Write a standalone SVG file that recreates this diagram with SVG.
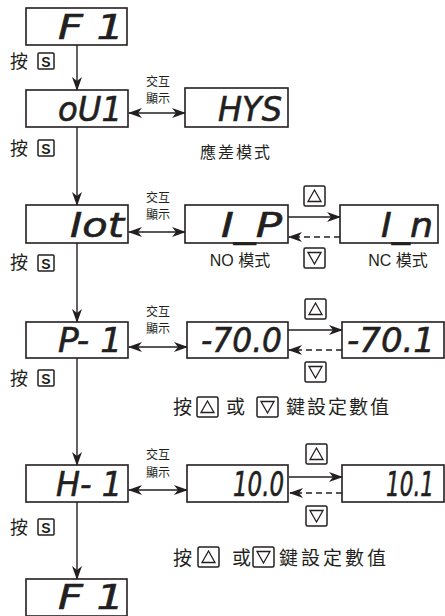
<svg xmlns="http://www.w3.org/2000/svg" width="445" height="616" viewBox="0 0 445 616">
<style>
.box{fill:#fff;stroke:#231f20;stroke-width:1.6}
.seg{font-family:"DejaVu Sans","Liberation Sans",sans-serif;font-weight:normal;font-style:oblique;font-size:33px;fill:#231f20;stroke:#231f20;stroke-width:0.6}
.ln{stroke:#231f20;stroke-width:1.4;fill:none}
.dash{stroke:#231f20;stroke-width:1.4;fill:none;stroke-dasharray:6 4}
.cjk{font-family:"Noto Sans CJK TC","Noto Sans CJK SC",sans-serif;fill:#231f20}
.lbl{font-family:"Liberation Sans","Noto Sans CJK TC",sans-serif;font-size:16px;fill:#231f20;text-anchor:middle}
.key{fill:#fff;stroke:#231f20;stroke-width:1.5}
.tri{fill:none;stroke:#231f20;stroke-width:1.3}
.s{font-family:"Liberation Sans",Arial,sans-serif;font-weight:bold;font-size:14px;fill:#231f20;text-anchor:middle}
</style>
<defs>
<marker id="ah" markerUnits="userSpaceOnUse" markerWidth="14" markerHeight="12" refX="13" refY="5" orient="auto-start-reverse" viewBox="0 0 14 10">
<path d="M0,0 L14,5 L0,10 L4,5 z" fill="#231f20"/>
</marker>
<g id="upkey"><rect class="key" x="0" y="0" width="21" height="20" rx="1.5"/><path class="tri" d="M4,15.5 L17,15.5 L10.5,4 z"/></g>
<g id="dnkey"><rect class="key" x="0" y="0" width="21" height="20" rx="1.5"/><path class="tri" d="M4,4.5 L17,4.5 L10.5,16 z"/></g>
<g id="skey"><rect class="key" x="0" y="0" width="16" height="16" rx="1"/><text class="s" x="8" y="13.5">S</text></g>
</defs>

<g id="connectors">
<line class="ln" x1="77" y1="45" x2="77" y2="90" marker-end="url(#ah)"/>
<line class="ln" x1="77" y1="127" x2="77" y2="205" marker-end="url(#ah)"/>
<line class="ln" x1="77" y1="243" x2="77" y2="322" marker-end="url(#ah)"/>
<line class="ln" x1="77" y1="358" x2="77" y2="465" marker-end="url(#ah)"/>
<line class="ln" x1="77" y1="502" x2="77" y2="579" marker-end="url(#ah)"/>

<line class="ln" x1="129" y1="113" x2="185" y2="113" marker-start="url(#ah)" marker-end="url(#ah)"/>
<line class="ln" x1="129" y1="232" x2="185" y2="232" marker-start="url(#ah)" marker-end="url(#ah)"/>
<line class="ln" x1="129" y1="347" x2="187" y2="347" marker-start="url(#ah)" marker-end="url(#ah)"/>
<line class="ln" x1="129" y1="490" x2="187" y2="490" marker-start="url(#ah)" marker-end="url(#ah)"/>

<line class="ln" x1="288" y1="217" x2="340" y2="217" marker-end="url(#ah)"/>
<line class="dash" x1="340" y1="237" x2="289" y2="237" marker-end="url(#ah)"/>
<line class="ln" x1="288" y1="330" x2="342" y2="330" marker-end="url(#ah)"/>
<line class="dash" x1="342" y1="350" x2="289" y2="350" marker-end="url(#ah)"/>
<line class="ln" x1="289" y1="477" x2="342" y2="477" marker-end="url(#ah)"/>
<line class="dash" x1="342" y1="493" x2="290" y2="493" marker-end="url(#ah)"/>
</g>

<g id="n-f1-top"><rect class="box" x="26" y="8" width="101" height="37"/><text class="seg" x="58" y="39" textLength="66" lengthAdjust="spacingAndGlyphs">F   1</text></g>
<g id="n-ou1"><rect class="box" x="26" y="90" width="102" height="37"/><text class="seg" x="58" y="121" textLength="64" lengthAdjust="spacingAndGlyphs">oU1</text></g>
<g id="n-hys"><rect class="box" x="185" y="88" width="103" height="39"/><text class="seg" x="218" y="121" textLength="64" lengthAdjust="spacingAndGlyphs">HYS</text></g>
<g id="n-iot"><rect class="box" x="26" y="205" width="102" height="38"/><text class="seg" x="70" y="237" textLength="54" lengthAdjust="spacingAndGlyphs">Iot</text></g>
<g id="n-ip"><rect class="box" x="185" y="205" width="103" height="38"/><text class="seg" x="221" y="237" textLength="61" lengthAdjust="spacingAndGlyphs">I_P</text></g>
<g id="n-in"><rect class="box" x="340" y="205" width="98" height="38"/><text class="seg" x="381" y="237" textLength="52" lengthAdjust="spacingAndGlyphs">I_n</text></g>
<g id="n-p1"><rect class="box" x="26" y="322" width="102" height="36"/><text class="seg" x="58" y="352" textLength="64" lengthAdjust="spacingAndGlyphs">P- 1</text></g>
<g id="n-m700"><rect class="box" x="187" y="322" width="101" height="36"/><text class="seg" x="201" y="352" textLength="81" lengthAdjust="spacingAndGlyphs">-70.0</text></g>
<g id="n-m701"><rect class="box" x="342" y="322" width="102" height="36"/><text class="seg" x="347" y="352" textLength="88" lengthAdjust="spacingAndGlyphs">-70.1</text></g>
<g id="n-h1"><rect class="box" x="26" y="465" width="102" height="37"/><text class="seg" x="56" y="496" textLength="66" lengthAdjust="spacingAndGlyphs">H- 1</text></g>
<g id="n-100"><rect class="box" x="187" y="465" width="101" height="37"/><text class="seg" x="233" y="496" textLength="51" lengthAdjust="spacingAndGlyphs">10.0</text></g>
<g id="n-101"><rect class="box" x="342" y="465" width="102" height="37"/><text class="seg" x="434" y="496" text-anchor="end" textLength="48" lengthAdjust="spacingAndGlyphs">10.1</text></g>
<g id="n-f1-bottom"><rect class="box" x="26" y="579" width="101" height="37"/><text class="seg" x="58" y="609" textLength="66" lengthAdjust="spacingAndGlyphs">F   1</text></g>

<g id="labels">
<text class="cjk" x="10" y="68" font-size="18">按</text><use href="#skey" x="38" y="53"/>
<text class="cjk" x="10" y="155" font-size="18">按</text><use href="#skey" x="38" y="140"/>
<text class="cjk" x="10" y="269" font-size="18">按</text><use href="#skey" x="38" y="255"/>
<text class="cjk" x="10" y="385" font-size="18">按</text><use href="#skey" x="38" y="370"/>
<text class="cjk" x="10" y="534" font-size="18">按</text><use href="#skey" x="38" y="519"/>

<text class="cjk" x="158" y="86" font-size="12" text-anchor="middle">交互</text>
<text class="cjk" x="158" y="103" font-size="12" text-anchor="middle">顯示</text>
<text class="cjk" x="158" y="202" font-size="12" text-anchor="middle">交互</text>
<text class="cjk" x="158" y="219" font-size="12" text-anchor="middle">顯示</text>
<text class="cjk" x="158" y="316" font-size="12" text-anchor="middle">交互</text>
<text class="cjk" x="158" y="333" font-size="12" text-anchor="middle">顯示</text>
<text class="cjk" x="158" y="459" font-size="12" text-anchor="middle">交互</text>
<text class="cjk" x="158" y="477" font-size="12" text-anchor="middle">顯示</text>

<text class="lbl" x="236" y="158" letter-spacing="2">應差模式</text>
<text class="lbl" x="240" y="266">NO 模式</text>
<text class="lbl" x="398" y="266">NC 模式</text>

<use href="#upkey" x="304" y="186"/>
<use href="#dnkey" x="304" y="248"/>
<use href="#upkey" x="305" y="299"/>
<use href="#dnkey" x="305" y="362"/>
<use href="#upkey" x="306" y="444"/>
<use href="#dnkey" x="306" y="506"/>

<text class="cjk" x="173" y="414" font-size="19">按</text>
<use href="#upkey" x="197" y="397"/>
<text class="cjk" x="226" y="414" font-size="19">或</text>
<use href="#dnkey" x="257" y="397"/>
<text class="cjk" x="286" y="414" font-size="19" letter-spacing="2">鍵設定數值</text>

<text class="cjk" x="173" y="565" font-size="19">按</text>
<use href="#upkey" x="198" y="547"/>
<text class="cjk" x="232" y="565" font-size="19">或</text>
<use href="#dnkey" x="253" y="547"/>
<text class="cjk" x="279" y="565" font-size="19" letter-spacing="3">鍵設定數值</text>
</g>
</svg>
